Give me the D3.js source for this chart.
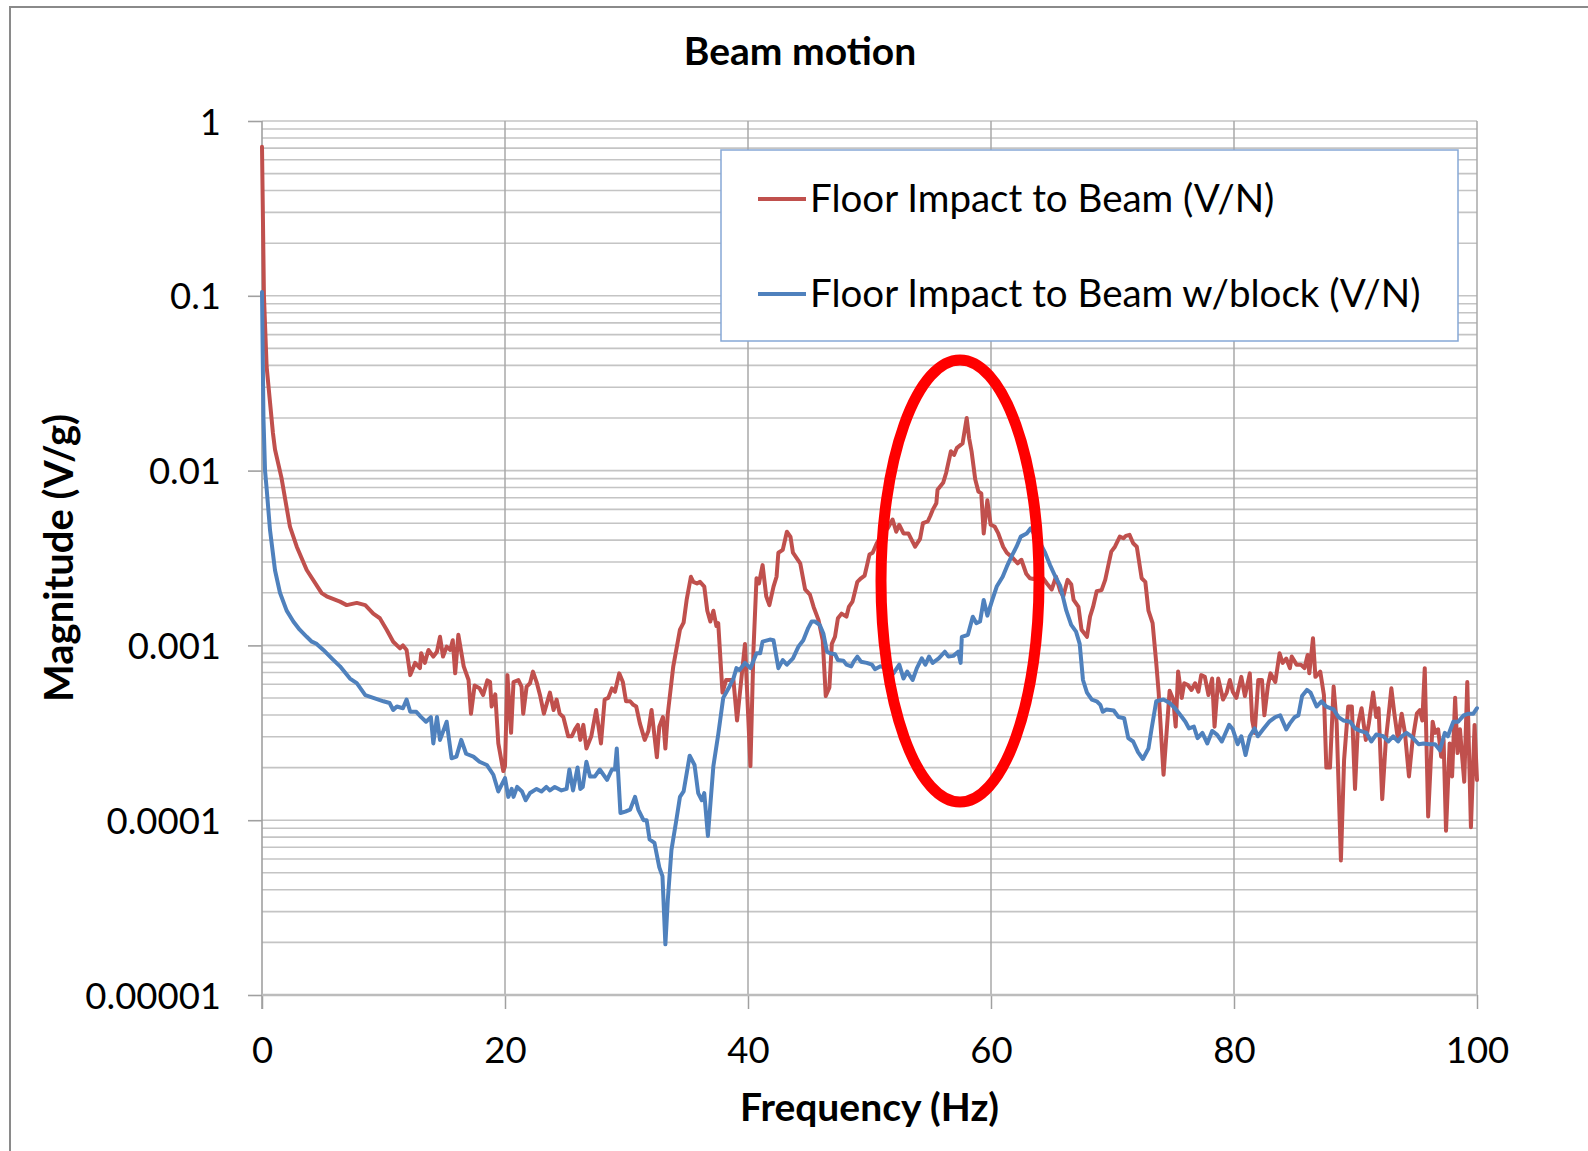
<!DOCTYPE html>
<html><head><meta charset="utf-8">
<script src="https://cdn.jsdelivr.net/npm/d3@7"></script>
<style>body{margin:0;background:#fff} svg{display:block}</style>
</head><body>
<svg id="chart" width="1588" height="1151"></svg>
<script>
const chartTitle = "Beam motion";
const xAxisTitle = "Frequency (Hz)";
const yAxisTitle = "Magnitude (V/g)";
const seriesNames = ["Floor Impact to Beam (V/N)", "Floor Impact to Beam w/block (V/N)"];
const seriesColors = ["#c0504d", "#4f81bd"];
const xTickValues = [0, 20, 40, 60, 80, 100];
const yTickValues = [1, 0.1, 0.01, 0.001, 0.0001, 0.00001];
const yTickLabels = ["1", "0.1", "0.01", "0.001", "0.0001", "0.00001"];

// [frequency Hz, magnitude]
const floorToBeam = [
[0,0.713],[0.16,0.1],[0.38,0.0394],[0.9,0.0164],[1.07,0.0132],[1.6,0.00912],[2.3,0.00478],[2.86,0.00367],
[3.68,0.0027],[4.91,0.00199],[5.32,0.00191],[6.42,0.00178],[6.97,0.0017],[7.8,0.00175],[8.5,0.0017],
[9.16,0.00152],[9.7,0.00143],[10.26,0.00123],[10.8,0.00105],[11.36,0.000962],[11.6,0.001],[11.9,0.000942],
[12.2,0.000676],[12.6,0.000794],[13.0,0.000741],[13.1,0.000902],[13.4,0.000794],[13.7,0.000942],[14.1,0.000863],
[14.4,0.00092],[14.65,0.00112],[14.9,0.000863],[15.2,0.000984],[15.5,0.000942],[15.7,0.00107],[15.9,0.000692],
[16.16,0.00115],[16.6,0.000759],[17.0,0.000634],[17.2,0.000407],[17.5,0.000589],[17.9,0.000569],[18.2,0.00052],
[18.55,0.000631],[18.77,0.000617],[18.9,0.000447],[19.2,0.000525],[19.45,0.000275],[19.86,0.000191],[20.0,0.000204],
[20.2,0.000676],[20.5,0.000316],[20.7,0.000617],[21.1,0.000634],[21.36,0.000581],[21.5,0.000407],[21.78,0.000581],
[22.06,0.000607],[22.3,0.000708],[22.6,0.000617],[22.9,0.000513],[23.2,0.000407],[23.7,0.000537],[24.0,0.000427],
[24.25,0.00049],[24.5,0.000407],[24.8,0.000389],[25.2,0.000302],[25.5,0.000302],[25.76,0.000331],[26.0,0.000351],
[26.2,0.000288],[26.45,0.000351],[26.7,0.000257],[27.1,0.000302],[27.5,0.000427],[27.9,0.000275],[28.2,0.00049],
[28.5,0.000501],[28.8,0.000568],[29.05,0.000543],[29.4,0.000692],[29.7,0.000617],[29.96,0.000479],[30.3,0.000479],
[30.56,0.000457],[30.8,0.000447],[31.1,0.000358],[31.5,0.000288],[31.8,0.000324],[32.06,0.000427],[32.5,0.000229],
[32.7,0.000343],[33.0,0.000389],[33.2,0.000257],[33.4,0.000407],[33.85,0.000759],[34.4,0.00123],[34.7,0.00135],
[34.95,0.00182],[35.3,0.00247],[35.5,0.00231],[35.8,0.00226],[36.05,0.00231],[36.4,0.00217],[36.65,0.00158],
[36.9,0.00137],[37.15,0.00158],[37.4,0.00129],[37.55,0.00134],[37.9,0.000537],[38.2,0.000634],[38.8,0.000634],
[39.1,0.000372],[39.5,0.000692],[39.75,0.00102],[40.2,0.000204],[40.45,0.000942],[40.7,0.00242],[40.9,0.00226],
[41.2,0.00288],[41.5,0.00191],[41.76,0.0017],[42.1,0.00217],[42.35,0.00247],[42.5,0.00339],[42.86,0.00352],
[43.2,0.00447],[43.5,0.00417],[43.7,0.00339],[44.3,0.00295],[44.7,0.00209],[45.1,0.00195],[45.4,0.00166],
[45.8,0.0014],[46.15,0.00107],[46.4,0.000513],[46.7,0.000575],[46.9,0.00102],[47.16,0.00112],[47.4,0.00143],
[47.7,0.00152],[48.1,0.00146],[48.3,0.00166],[48.6,0.00178],[49.0,0.00231],[49.3,0.00242],[49.6,0.00251],
[49.8,0.00288],[50.0,0.00331],[50.26,0.00339],[50.6,0.00384],[51.0,0.00427],[51.5,0.00468],[51.9,0.00525],
[52.2,0.00447],[52.45,0.0049],[52.8,0.00437],[53.2,0.00437],[53.75,0.00367],[54.16,0.00407],[54.4,0.00501],
[54.8,0.00513],[55.0,0.0055],[55.2,0.00596],[55.5,0.0065],[55.6,0.00776],[56.06,0.00851],[56.3,0.00966],
[56.7,0.0129],[56.96,0.0123],[57.2,0.0135],[57.66,0.0143],[58.0,0.02],[58.2,0.0153],[58.4,0.0129],
[58.7,0.00891],[58.96,0.00759],[59.2,0.00741],[59.4,0.00437],[59.7,0.00676],[59.97,0.0049],[60.3,0.00479],
[60.6,0.00437],[61.0,0.00367],[61.3,0.00339],[61.8,0.00316],[62.2,0.00295],[62.5,0.00309],[62.9,0.00257],
[63.2,0.00242],[63.5,0.0024],[63.9,0.00247],[64.3,0.00242],[64.6,0.00226],[65.0,0.00209],[65.35,0.00247],
[65.7,0.00204],[65.95,0.00191],[66.3,0.00237],[66.6,0.00224],[66.8,0.00182],[67.2,0.00166],[67.45,0.00123],
[67.9,0.00112],[68.15,0.00146],[68.4,0.00166],[68.7,0.00204],[69.1,0.00207],[69.4,0.00237],[69.66,0.00288],
[69.9,0.00344],[70.2,0.00367],[70.6,0.00419],[70.9,0.0041],[71.1,0.00423],[71.4,0.00429],[71.7,0.00384],
[72.0,0.00367],[72.4,0.00242],[72.7,0.00231],[72.96,0.00158],[73.3,0.00134],[73.6,0.000794],[73.8,0.000537],
[74.2,0.000182],[74.45,0.000316],[74.7,0.00055],[75.0,0.00049],[75.2,0.000343],[75.4,0.000708],[75.7,0.000501],
[75.9,0.000607],[76.2,0.000593],[76.5,0.000556],[76.8,0.000607],[77.07,0.000543],[77.3,0.000676],[77.6,0.000661],
[77.9,0.00052],[78.2,0.000646],[78.4,0.000343],[78.7,0.000646],[79.1,0.00049],[79.4,0.000537],[79.66,0.000634],
[79.9,0.000543],[80.2,0.000501],[80.6,0.000661],[80.9,0.000513],[81.3,0.000692],[81.5,0.000372],[81.7,0.000316],
[82.0,0.000634],[82.3,0.000634],[82.5,0.000398],[82.8,0.000593],[83.0,0.000692],[83.4,0.000617],[83.75,0.000902],
[84.0,0.000794],[84.3,0.000841],[84.6,0.000741],[84.75,0.000863],[85.15,0.000776],[85.5,0.000776],[85.8,0.000741],
[86.06,0.000881],[86.2,0.000692],[86.5,0.0011],[86.7,0.000661],[87.1,0.000708],[87.4,0.00052],[87.6,0.0002],
[87.9,0.0002],[88.2,0.000581],[88.45,0.000358],[88.8,0.0000589],[89.06,0.000221],[89.4,0.000447],[89.7,0.000447],
[89.96,0.000151],[90.2,0.000351],[90.5,0.000437],[90.85,0.000288],[91.1,0.000358],[91.45,0.000537],[91.7,0.000389],
[91.9,0.000437],[92.2,0.000132],[92.5,0.000288],[92.8,0.000447],[92.95,0.000568],[93.2,0.000407],[93.5,0.000288],
[93.8,0.000407],[94.07,0.000316],[94.4,0.000178],[94.7,0.000288],[95.05,0.000407],[95.3,0.000427],[95.5,0.000372],
[95.7,0.000741],[95.98,0.000105],[96.35,0.000366],[96.55,0.000316],[96.8,0.000331],[97.05,0.000231],[97.25,0.000288],
[97.45,0.0000871],[97.75,0.000275],[97.95,0.000178],[98.2,0.000501],[98.4,0.000242],[98.6,0.000331],[98.8,0.000221],
[98.95,0.000166],[99.2,0.000617],[99.5,0.0000912],[99.8,0.000351],[100,0.00017]
];

const floorToBeamBlock = [
[0,0.105],[0.12,0.02],[0.25,0.01],[0.39,0.00776],[0.66,0.00457],[1.07,0.00269],[1.48,0.002],[2.03,0.00158],
[2.58,0.00137],[3.1,0.00123],[3.68,0.00112],[4.1,0.00105],[4.5,0.00102],[5.05,0.000942],[5.74,0.000843],
[6.42,0.000759],[7.24,0.000646],[7.8,0.000608],[8.5,0.00052],[9.16,0.000501],[10.0,0.000479],[10.5,0.000468],
[10.8,0.000427],[11.1,0.000447],[11.6,0.000437],[11.9,0.00049],[12.2,0.000417],[12.7,0.000417],[13.1,0.000389],
[13.5,0.000366],[13.9,0.000389],[14.1,0.000275],[14.4,0.000389],[14.65,0.000288],[15.2,0.000366],[15.6,0.000226],
[16.0,0.000231],[16.4,0.000288],[16.8,0.00024],[17.4,0.000231],[17.9,0.000216],[18.5,0.000207],[19.04,0.000182],
[19.45,0.000146],[20.0,0.000174],[20.27,0.000136],[20.55,0.000151],[20.7,0.000136],[21.0,0.000155],[21.4,0.000146],
[21.7,0.00013],[22.06,0.000143],[22.6,0.000151],[23.0,0.000146],[23.4,0.000155],[23.7,0.000148],[24.1,0.000155],
[24.65,0.000148],[25.07,0.000151],[25.3,0.000195],[25.6,0.000148],[25.97,0.0002],[26.2,0.000151],[26.4,0.000155],
[26.7,0.000216],[27.0,0.000178],[27.4,0.000178],[27.8,0.000195],[28.4,0.00017],[28.8,0.000195],[29.05,0.000195],
[29.2,0.000257],[29.5,0.00011],[29.9,0.000112],[30.3,0.000115],[30.7,0.000136],[30.97,0.000115],[31.4,0.0001],
[31.66,0.0001],[31.9,0.0000776],[32.3,0.0000741],[32.7,0.0000537],[32.96,0.0000479],[33.2,0.0000195],[33.4,0.000035],
[33.7,0.0000676],[34.1,0.0001],[34.4,0.000136],[34.7,0.000146],[35.2,0.000234],[35.6,0.000207],[35.9,0.000143],
[36.2,0.00013],[36.4,0.000143],[36.7,0.0000813],[37.15,0.000204],[37.55,0.000309],[37.96,0.000501],[38.4,0.000568],
[38.8,0.000646],[39.05,0.000741],[39.3,0.000724],[39.75,0.000794],[40.2,0.000741],[40.7,0.000902],[41.0,0.000902],
[41.2,0.00105],[41.8,0.00108],[42.1,0.00107],[42.5,0.000741],[42.86,0.000824],[43.2,0.000776],[43.7,0.000843],
[44.15,0.000984],[44.55,0.00107],[44.96,0.00126],[45.24,0.00137],[45.5,0.00137],[45.9,0.00131],[46.2,0.00117],
[46.5,0.00092],[46.75,0.000902],[47.16,0.000891],[47.4,0.000824],[47.85,0.000818],[48.1,0.000776],[48.5,0.000759],
[48.7,0.000807],[49.0,0.000863],[49.3,0.000807],[49.77,0.000794],[50.2,0.000776],[50.45,0.000731],[50.9,0.000759],
[51.4,0.000741],[51.97,0.000692],[52.45,0.000776],[52.8,0.000646],[53.1,0.000708],[53.55,0.000634],[53.9,0.000741],
[54.3,0.000843],[54.6,0.000776],[54.9,0.000863],[55.2,0.000794],[55.7,0.000843],[56.2,0.00092],[56.5,0.000863],
[56.9,0.000871],[57.3,0.00092],[57.5,0.000794],[57.6,0.00112],[58.1,0.00115],[58.5,0.00146],[58.8,0.00134],
[59.1,0.00137],[59.4,0.00182],[59.7,0.00148],[60.06,0.00178],[60.47,0.00217],[60.96,0.00247],[61.3,0.00282],
[61.7,0.00324],[62.1,0.00367],[62.45,0.00419],[62.94,0.00437],[63.27,0.00468],[63.6,0.00427],[64.05,0.00384],
[64.45,0.00339],[64.86,0.00288],[65.3,0.00247],[65.7,0.00219],[66.2,0.00158],[66.6,0.00131],[67.0,0.0012],
[67.3,0.00102],[67.57,0.000634],[67.9,0.000537],[68.3,0.00049],[68.7,0.000479],[69.0,0.000457],[69.2,0.000417],
[69.5,0.00043],[70.1,0.000424],[70.5,0.000389],[70.96,0.000383],[71.3,0.000295],[71.7,0.000282],[72.1,0.000245],
[72.5,0.000224],[72.96,0.000257],[73.2,0.000328],[73.6,0.000479],[74.2,0.00049],[74.7,0.000468],[75.15,0.000437],
[75.6,0.000398],[76.0,0.000366],[76.3,0.000335],[76.7,0.000343],[77.0,0.000295],[77.4,0.000316],[77.8,0.000275],
[78.2,0.000324],[78.6,0.000309],[79.0,0.000282],[79.6,0.000351],[79.9,0.000331],[80.3,0.000272],[80.6,0.000302],
[80.95,0.000236],[81.3,0.000302],[81.7,0.000335],[81.96,0.000302],[82.4,0.000331],[82.9,0.000366],[83.4,0.000389],
[83.8,0.000398],[84.3,0.000331],[84.6,0.000358],[85.0,0.000389],[85.3,0.000398],[85.6,0.000513],[86.0,0.000556],
[86.3,0.000537],[86.8,0.000447],[87.2,0.000479],[87.6,0.000447],[88.2,0.00043],[88.6,0.000389],[89.0,0.000372],
[89.56,0.000366],[89.96,0.000335],[90.4,0.000324],[90.9,0.000316],[91.3,0.000282],[91.7,0.000309],[92.3,0.000302],
[92.7,0.000282],[93.1,0.000302],[93.5,0.000282],[93.8,0.000302],[94.2,0.000316],[94.6,0.000302],[95.2,0.000272],
[95.6,0.000275],[96.1,0.000272],[96.55,0.000272],[96.95,0.000251],[97.35,0.000316],[97.6,0.000302],[98.05,0.000366],
[98.45,0.000366],[98.9,0.000398],[99.3,0.000407],[99.7,0.000407],[100,0.000437]
];

const seriesData = [floorToBeam, floorToBeamBlock];

const FONT = "Lato, 'Open Sans', sans-serif";
const svg = d3.select("#chart");
const plot = {left: 262, right: 1477, top: 121, bottom: 995};

const x = d3.scaleLinear().domain([0, 100]).range([plot.left, plot.right]);
const y = d3.scaleLog().domain([0.00001, 1]).range([plot.bottom, plot.top]);

// outer chart frame
svg.append("rect").attr("x", 10).attr("y", 7).attr("width", 1600).attr("height", 1200)
  .attr("fill", "#fff").attr("stroke", "#8a8a8a").attr("stroke-width", 2);

// minor + major horizontal gridlines
const gridVals = [];
yTickValues.slice(1).forEach(d => { for (let k = 1; k <= 9; k++) gridVals.push(d * k); });
gridVals.push(1);
svg.append("g").selectAll("line").data(gridVals).join("line")
  .attr("x1", plot.left).attr("x2", plot.right)
  .attr("y1", d => y(d)).attr("y2", d => y(d))
  .attr("stroke", "#c4c4c4").attr("stroke-width", 1.6);

// vertical gridlines
svg.append("g").selectAll("line").data(xTickValues.slice(1)).join("line")
  .attr("x1", d => x(d)).attr("x2", d => x(d))
  .attr("y1", plot.top).attr("y2", plot.bottom)
  .attr("stroke", "#a8a8a8").attr("stroke-width", 1.5);

// axes
const yAxis = d3.axisLeft(y).tickValues(yTickValues)
  .tickFormat((d, i) => yTickLabels[i]).tickSize(14).tickPadding(27);
const gy = svg.append("g").attr("transform", `translate(${plot.left},0)`).call(yAxis);
gy.select(".domain").remove();
gy.selectAll(".tick line").attr("stroke", "#a0a0a0").attr("stroke-width", 1.6);
gy.selectAll(".tick text").attr("font-family", FONT).attr("font-size", 36.5).attr("fill", "#000").attr("dy", "0.36em");

const xAxis = d3.axisBottom(x).tickValues(xTickValues).tickFormat(d3.format("d")).tickSize(14).tickPadding(28);
const gx = svg.append("g").attr("transform", `translate(0,${plot.bottom})`).call(xAxis);
gx.select(".domain").remove();
gx.selectAll(".tick line").attr("stroke", "#a0a0a0").attr("stroke-width", 1.5);
gx.selectAll(".tick text").attr("font-family", FONT).attr("font-size", 36.5).attr("fill", "#000");

svg.append("line").attr("x1", plot.left).attr("x2", plot.left).attr("y1", plot.top).attr("y2", plot.bottom + 14)
  .attr("stroke", "#a0a0a0").attr("stroke-width", 1.6);
svg.append("line").attr("x1", plot.left).attr("x2", plot.right).attr("y1", plot.bottom).attr("y2", plot.bottom)
  .attr("stroke", "#bcbcbc").attr("stroke-width", 2.5);

// series
const line = d3.line().x(d => x(d[0])).y(d => y(d[1]));
svg.append("g").selectAll("path").data(seriesData).join("path")
  .attr("d", line).attr("fill", "none")
  .attr("stroke", (d, i) => seriesColors[i]).attr("stroke-width", 4)
  .attr("stroke-linejoin", "round").attr("stroke-linecap", "round");

// titles
svg.append("text").attr("x", 800).attr("y", 65).attr("text-anchor", "middle")
  .attr("font-family", FONT).attr("font-weight", "bold").attr("font-size", 39).text(chartTitle);
svg.append("text").attr("x", (plot.left + plot.right) / 2).attr("y", 1121).attr("text-anchor", "middle")
  .attr("font-family", FONT).attr("font-weight", "bold").attr("font-size", 39).text(xAxisTitle);
svg.append("text").attr("transform", `translate(73,${(plot.top + plot.bottom) / 2}) rotate(-90)`)
  .attr("text-anchor", "middle")
  .attr("font-family", FONT).attr("font-weight", "bold").attr("font-size", 40).text(yAxisTitle);

// legend
const lg = svg.append("g");
lg.append("rect").attr("x", 721).attr("y", 150).attr("width", 737).attr("height", 191)
  .attr("fill", "#fff").attr("stroke", "#86a8d6").attr("stroke-width", 1.5);
seriesNames.forEach((name, i) => {
  const cy = 199 + i * 95;
  lg.append("line").attr("x1", 758).attr("x2", 806).attr("y1", cy).attr("y2", cy)
    .attr("stroke", seriesColors[i]).attr("stroke-width", 4);
  lg.append("text").attr("x", 810).attr("y", cy + 13).attr("font-family", FONT).attr("font-size", 38.5)
    .attr("fill", "#000").text(name);
});

// highlight ellipse
svg.append("ellipse").attr("cx", 960).attr("cy", 581).attr("rx", 79).attr("ry", 221)
  .attr("fill", "none").attr("stroke", "#ff0000").attr("stroke-width", 11);
</script>
</body></html>
